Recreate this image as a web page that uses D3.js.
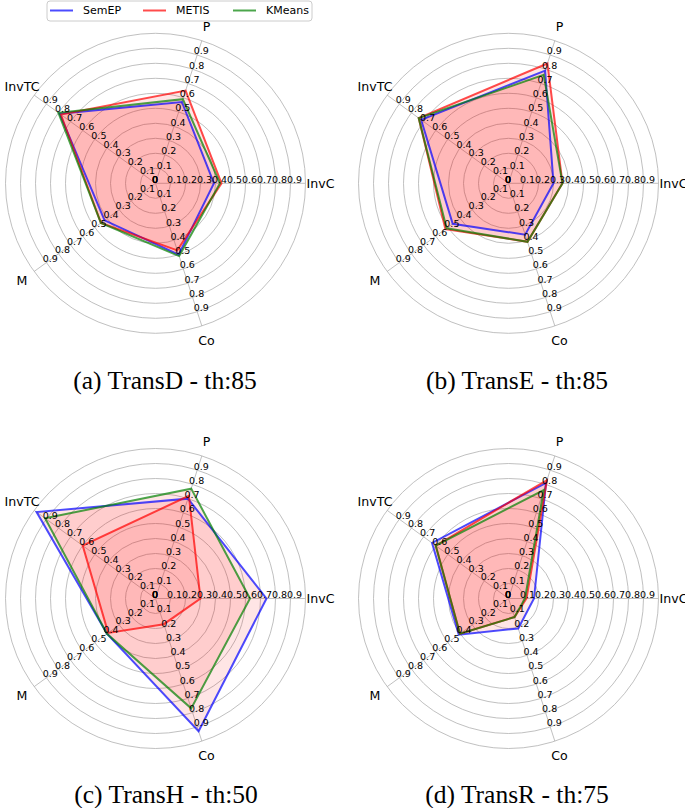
<!DOCTYPE html>
<html>
<head>
<meta charset="utf-8">
<script src="https://cdn.jsdelivr.net/npm/d3@7"></script>
<style>
  html, body { margin: 0; padding: 0; background: #fff; }
  svg { display: block; }
</style>
</head>
<body>
<svg id="chart" width="685" height="808"></svg>
<script>
// ---------- data ----------
const categories = ["InvC", "P", "InvTC", "M", "Co"];   // counter-clockwise from the right
const ticks = [0, 0.1, 0.2, 0.3, 0.4, 0.5, 0.6, 0.7, 0.8, 0.9];
const tickLabels = ["0", "0.1", "0.2", "0.3", "0.4", "0.5", "0.6", "0.7", "0.8", "0.9"];
const gridLevels = [0.1, 0.2, 0.3, 0.4, 0.5, 0.6, 0.7, 0.8, 0.9, 1.0];
const panelTitles = ["(a) TransD - th:85", "(b) TransE - th:85", "(c) TransH - th:50", "(d) TransR - th:75"];
const seriesNames = ["SemEP", "METIS", "KMeans"];
const seriesColors = ["#0000ff", "#ff0000", "#008000"];

// values per panel, ordered as categories [InvC, P, InvTC, M, Co]
const semEP = [
  [0.39, 0.57, 0.79, 0.42, 0.50],
  [0.30, 0.79, 0.72, 0.46, 0.36],
  [0.74, 0.70, 0.98, 0.40, 0.93],
  [0.17, 0.81, 0.63, 0.41, 0.21]
];
const metis = [
  [0.44, 0.65, 0.78, 0.45, 0.47],
  [0.36, 0.84, 0.74, 0.52, 0.41],
  [0.30, 0.72, 0.60, 0.39, 0.18],
  [0.12, 0.83, 0.60, 0.40, 0.13]
];
const kmeans = [
  [0.43, 0.59, 0.80, 0.45, 0.51],
  [0.36, 0.76, 0.74, 0.51, 0.41],
  [0.63, 0.77, 0.91, 0.40, 0.77],
  [0.11, 0.76, 0.60, 0.40, 0.13]
];
const allSeries = [semEP, metis, kmeans];

// ---------- layout ----------
const svg = d3.select("#chart");
const R = 150;
const centers = [[155.5, 183.3], [508.5, 183.3], [155.5, 598.5], [508.5, 598.5]];
const titlePos = [[165, 389], [517, 389], [166, 803], [517, 803]];

const rScale = d3.scaleLinear().domain([0, 1]).range([0, R]);
const angleScale = d3.scalePoint().domain(categories).range([0, 360 * 4 / 5]); // degrees, math convention
const rad = d => d * Math.PI / 180;
const pt = (cat, v) => {
  const a = rad(angleScale(cat));
  return [rScale(v) * Math.cos(a), -rScale(v) * Math.sin(a)];
};

const line = d3.lineRadial()
  .angle((d, i) => Math.PI / 2 - rad(angleScale(categories[i])))
  .radius(d => rScale(d))
  .curve(d3.curveLinearClosed);

centers.forEach((c, p) => {
  const g = svg.append("g").attr("transform", `translate(${c[0]},${c[1]})`);

  // grid circles
  g.selectAll("circle.grid").data(gridLevels).join("circle")
    .attr("r", d => rScale(d))
    .attr("fill", "none")
    .attr("stroke", "#b0b0b0")
    .attr("stroke-width", 0.8);

  // spokes
  g.selectAll("line.spoke").data(categories).join("line")
    .attr("x1", 0).attr("y1", 0)
    .attr("x2", d => pt(d, 1)[0])
    .attr("y2", d => pt(d, 1)[1])
    .attr("stroke", "#b0b0b0")
    .attr("stroke-width", 0.8);

  // series fills (all drawn red, translucent) and outlines
  allSeries.forEach((s, k) => {
    g.append("path")
      .attr("d", line(s[p]))
      .attr("fill", "#ff0000")
      .attr("fill-opacity", 0.1)
      .attr("stroke", "none");
  });
  allSeries.forEach((s, k) => {
    g.append("path")
      .attr("d", line(s[p]))
      .attr("fill", "none")
      .attr("stroke", seriesColors[k])
      .attr("stroke-opacity", 0.7)
      .attr("stroke-width", 2)
      .attr("stroke-linejoin", "miter");
  });

  // radial tick labels on every axis
  categories.forEach(cat => {
    g.selectAll(null).data(ticks).join("text")
      .attr("x", d => pt(cat, d)[0] - 3.5)
      .attr("y", d => pt(cat, d)[1] - 0.5)
      .attr("text-anchor", "start")
      .attr("font-family", "DejaVu Sans")
      .attr("font-size", 9.5)
      .attr("fill", "#000")
      .text((d, i) => tickLabels[i]);
  });

  // axis labels
  g.selectAll("text.cat").data(categories).join("text")
    .attr("class", "cat")
    .attr("x", d => pt(d, 1.1)[0])
    .attr("y", d => pt(d, 1.1)[1])
    .attr("text-anchor", "middle")
    .attr("dominant-baseline", "central")
    .attr("font-family", "DejaVu Sans")
    .attr("font-size", 12.6)
    .attr("fill", "#000")
    .text(d => d);

  // subtitle
  svg.append("text")
    .attr("x", titlePos[p][0])
    .attr("y", titlePos[p][1])
    .attr("text-anchor", "middle")
    .attr("font-family", "Liberation Serif")
    .attr("font-size", 25.5)
    .attr("fill", "#000")
    .text(panelTitles[p]);
});

// ---------- legend ----------
const legend = svg.append("g");
legend.append("rect")
  .attr("x", 47).attr("y", 1).attr("width", 265).attr("height", 20)
  .attr("rx", 3)
  .attr("fill", "#fff").attr("fill-opacity", 0.8)
  .attr("stroke", "#cccccc").attr("stroke-width", 1);
const legendX = [50, 143, 233];
seriesNames.forEach((n, k) => {
  legend.append("line")
    .attr("x1", legendX[k]).attr("x2", legendX[k] + 23)
    .attr("y1", 10.5).attr("y2", 10.5)
    .attr("stroke", seriesColors[k]).attr("stroke-opacity", 0.7)
    .attr("stroke-width", 2);
  legend.append("text")
    .attr("x", legendX[k] + 33)
    .attr("y", 10.5)
    .attr("dominant-baseline", "central")
    .attr("font-family", "DejaVu Sans")
    .attr("font-size", 11)
    .attr("fill", "#000")
    .text(n);
});
</script>
</body>
</html>
